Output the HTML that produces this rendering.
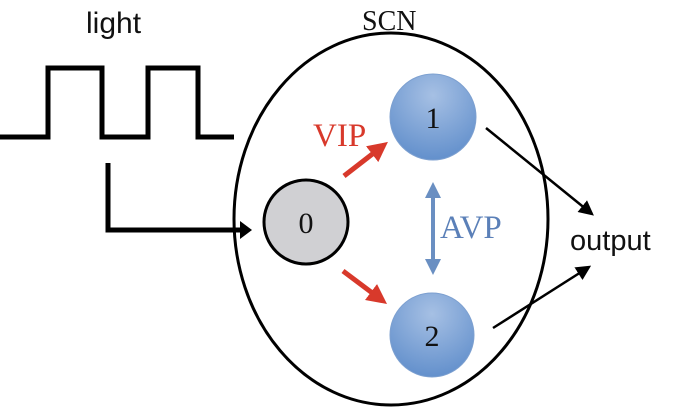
<!DOCTYPE html>
<html><head><style>body{margin:0;background:#fff}svg{display:block}</style></head><body>
<svg width="675" height="415" viewBox="0 0 675 415" xmlns="http://www.w3.org/2000/svg">
<defs>
<radialGradient id="g" cx="50%" cy="25%" r="75%"><stop offset="0" stop-color="#a6c0e4"/><stop offset="1" stop-color="#6390cc"/></radialGradient>
<marker id="ab" markerWidth="6" markerHeight="6" refX="5" refY="3" orient="auto" markerUnits="strokeWidth"><path d="M0,0 L6,3 L0,6 z" fill="#000"/></marker>
<marker id="ar" markerWidth="4" markerHeight="4" refX="3" refY="2" orient="auto" markerUnits="strokeWidth"><path d="M0,0 L4,2 L0,4 z" fill="#d8392b"/></marker>
<marker id="au" markerWidth="4" markerHeight="4" refX="3" refY="2" orient="auto-start-reverse" markerUnits="strokeWidth"><path d="M0,0 L4,2 L0,4 z" fill="#6a8fc2"/></marker>
</defs>
<text x="86" y="33" font-family="Liberation Sans, sans-serif" font-size="30" fill="#111">light</text>
<text x="362" y="30" font-family="Liberation Serif, serif" font-size="28" fill="#111">SCN</text>
<polyline points="0,137 48,137 48,68 102,68 102,137 148,137 148,68 198,68 198,137 234,137" fill="none" stroke="#000" stroke-width="5"/>
<ellipse cx="391" cy="219" rx="157" ry="186" fill="#fff" stroke="#000" stroke-width="3"/>
<polyline points="108,163 108,230 242,230" fill="none" stroke="#000" stroke-width="5"/>
<path d="M240,221 L252,230 L240,239 z" fill="#000"/>
<circle cx="306" cy="222" r="42" fill="#d0d0d3" stroke="#000" stroke-width="3"/>
<circle cx="433" cy="117" r="43" fill="url(#g)" stroke="#7da0d0" stroke-width="1"/>
<circle cx="432" cy="335" r="42" fill="url(#g)" stroke="#7da0d0" stroke-width="1"/>
<text x="306" y="233" text-anchor="middle" font-family="Liberation Serif, serif" font-size="30" fill="#111">0</text>
<text x="433" y="128" text-anchor="middle" font-family="Liberation Serif, serif" font-size="30" fill="#111">1</text>
<text x="432" y="346" text-anchor="middle" font-family="Liberation Serif, serif" font-size="30" fill="#111">2</text>
<line x1="344" y1="176" x2="384" y2="145" stroke="#d8392b" stroke-width="5" marker-end="url(#ar)"/>
<line x1="343" y1="271" x2="383" y2="301" stroke="#d8392b" stroke-width="5" marker-end="url(#ar)"/>
<text x="313" y="146" font-family="Liberation Serif, serif" font-size="33" fill="#d8392b">VIP</text>
<line x1="433" y1="186" x2="433" y2="271" stroke="#6a8fc2" stroke-width="4" marker-start="url(#au)" marker-end="url(#au)"/>
<text x="440" y="238" font-family="Liberation Serif, serif" font-size="33" fill="#5b80b8">AVP</text>
<line x1="486" y1="128" x2="592" y2="214" stroke="#000" stroke-width="2.5" marker-end="url(#ab)"/>
<line x1="493" y1="328" x2="589" y2="267" stroke="#000" stroke-width="2.5" marker-end="url(#ab)"/>
<text x="570" y="250" font-family="Liberation Sans, sans-serif" font-size="29" fill="#111">output</text>
</svg>
</body></html>
